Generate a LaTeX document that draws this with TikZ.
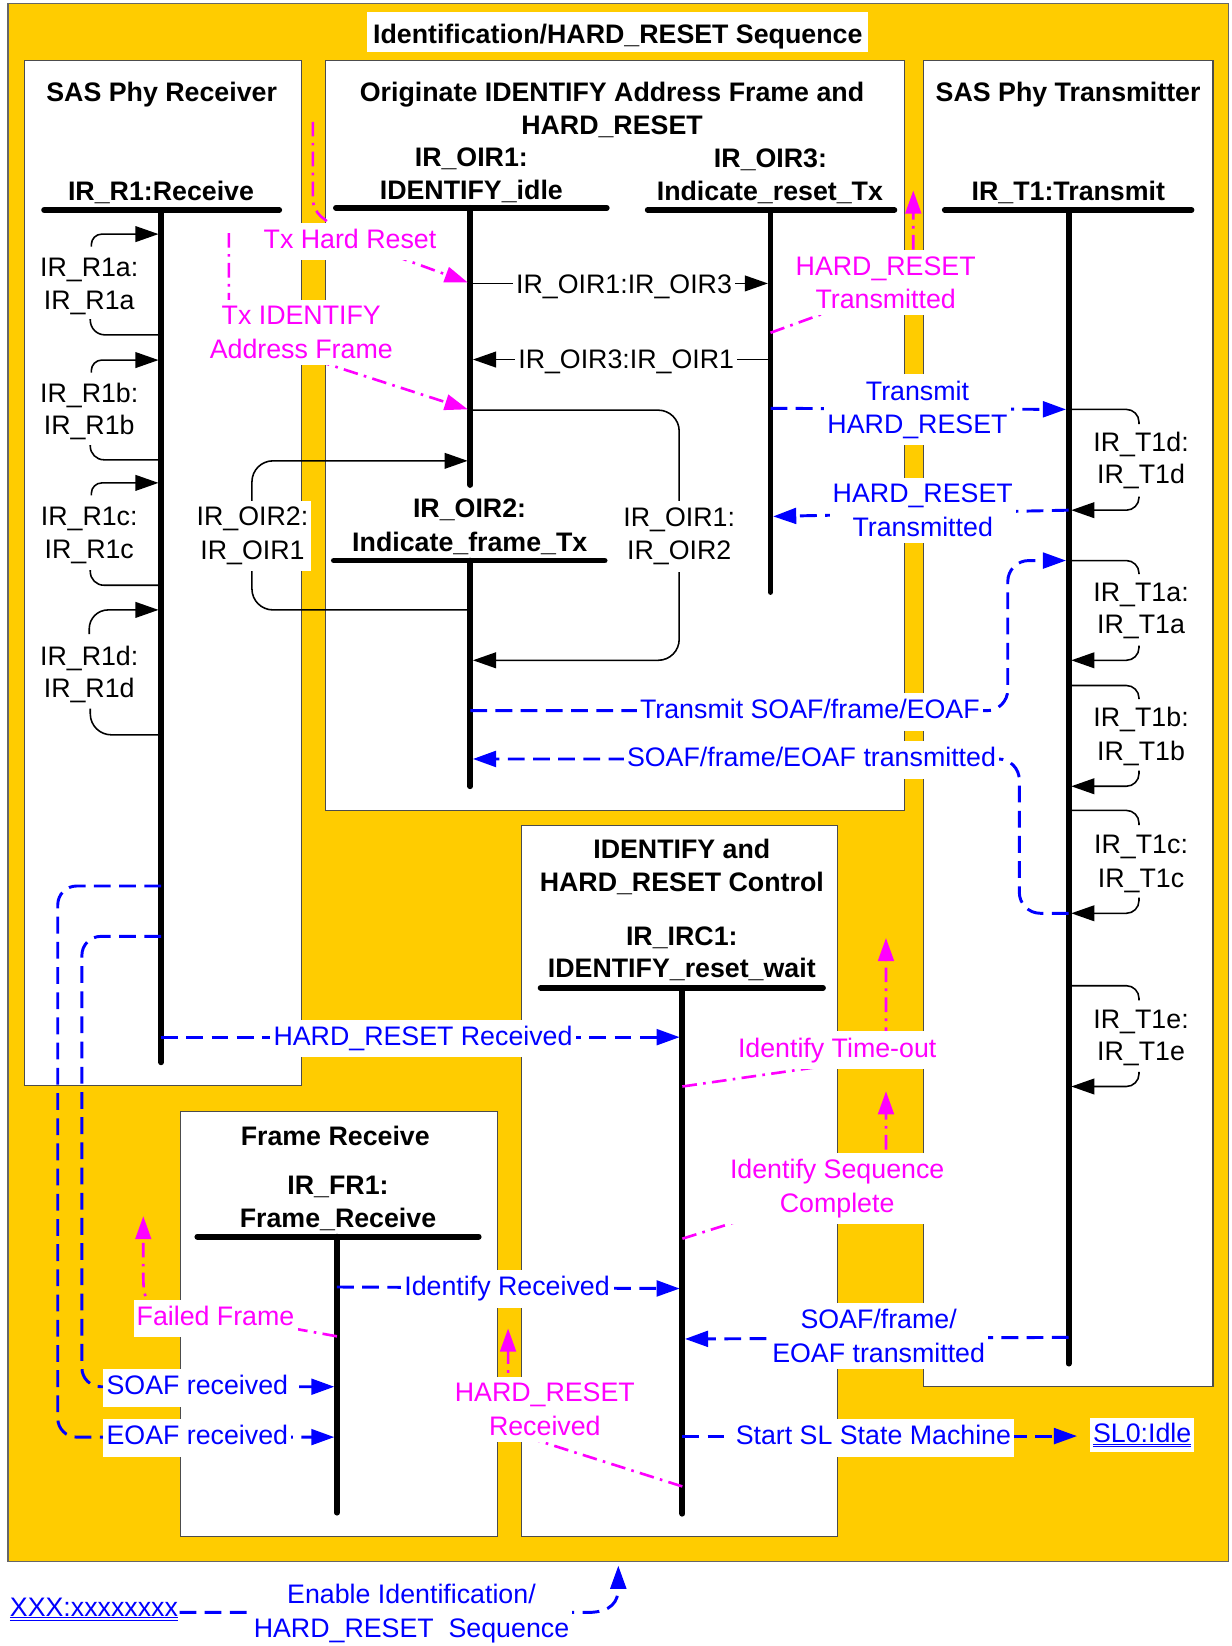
\documentclass[tikz,border=0pt]{standalone}
\usepackage{fontspec}
\setmainfont{Liberation Sans}
\usetikzlibrary{arrows.meta}
\definecolor{yel}{HTML}{FFCC00}
\definecolor{mag}{HTML}{FF00FF}
\definecolor{blu}{HTML}{0000FF}
\newcommand\myfs{\fontsize{25.5pt}{32pt}\selectfont}
\newcommand\dblul[1]{\underline{\underline{#1}}}
\begin{document}
\begin{tikzpicture}[x=1pt,y=-1pt,
  box/.style={draw=black!70, fill=white, line width=1pt, anchor=north west, inner sep=0pt},
  bar/.style={line width=5.5pt, line cap=round},
  arr/.style={-{Triangle[length=22pt,width=15pt]}, shorten >=2.5pt},
  tr/.style={draw=black, line width=1.5pt},
  sig/.style={draw=blu, line width=2.8pt, dash pattern=on 16pt off 8pt},
  evt/.style={draw=mag, line width=2.5pt, dash pattern=on 14pt off 6pt on 2.5pt off 6pt},
  txt/.style={font=\myfs, inner sep=0pt, anchor=base},
  btxt/.style={font=\myfs\bfseries, inner sep=0pt, anchor=base},
  lbl/.style={font=\myfs, fill=white, inner xsep=3pt, inner ysep=6pt, text height=18.5pt, text depth=5.5pt},
  lblm/.style={font=\myfs, fill=white, inner xsep=3pt, inner ysep=6pt, align=center},
]
\useasboundingbox (0,0) rectangle (1173,1568);
% background and panels
\node[draw=black!60, fill=yel, line width=1.2pt, anchor=north west, inner sep=0pt, minimum width=1163pt, minimum height=1484pt] (bg) at (7,3) {};
\node[box, minimum width=264pt, minimum height=977pt] (prx) at (23,57) {};
\node[box, minimum width=551pt, minimum height=715pt] (poir) at (310,57) {};
\node[box, minimum width=276pt, minimum height=1263pt] (ptx) at (879,57) {};
\node[box, minimum width=301pt, minimum height=677pt] (pirc) at (496,786) {};
\node[box, minimum width=302pt, minimum height=405pt] (pfr) at (171,1058) {};
\node[fill=white, inner sep=0pt, minimum width=477pt, minimum height=38pt] (titlebox) at (588.5,30.5) {};
\node[btxt] (title) at (588.5,41.3) {Identification/HARD\_RESET Sequence};

% panel titles
\node[btxt] (tprx) at (154,97) {SAS Phy Receiver};
\node[btxt] (tpo1) at (583,97) {Originate IDENTIFY Address Frame and};
\node[btxt] (tpo2) at (583,128.6) {HARD\_RESET};
\node[btxt] (tptx) at (1017.5,97) {SAS Phy Transmitter};
\node[btxt] (tpc1) at (649.5,818) {IDENTIFY and};
\node[btxt] (tpc2) at (649.5,849.7) {HARD\_RESET Control};
\node[btxt] (tpfr) at (319.4,1091) {Frame Receive};

% state names
\node[btxt] (sr1) at (153.4,190.6) {IR\_R1:Receive};
\node[btxt] (so1a) at (449,158.8) {IR\_OIR1:};
\node[btxt] (so1b) at (449,190) {IDENTIFY\_idle};
\node[btxt] (so3a) at (734,159.5) {IR\_OIR3:};
\node[btxt] (so3b) at (733.4,190.6) {Indicate\_reset\_Tx};
\node[btxt] (st1) at (1017.7,190.6) {IR\_T1:Transmit};
\node[btxt] (so2a) at (447.3,493) {IR\_OIR2:};
\node[btxt] (so2b) at (447.5,525.7) {Indicate\_frame\_Tx};
\node[btxt] (sica) at (649.5,900.5) {IR\_IRC1:};
\node[btxt] (sicb) at (649.5,931.3) {IDENTIFY\_reset\_wait};
\node[btxt] (sfra) at (322,1138) {IR\_FR1:};
\node[btxt] (sfrb) at (322,1169) {Frame\_Receive};

% state bars
\draw[bar] (42,200) -- (266,200);
\coordinate (r1t) at (153.5,200); \coordinate (r1e) at (153.5,1012);
\draw[bar] (r1t) -- (r1e);
\draw[bar] (320,198) -- (578,198);
\coordinate (o1t) at (448,198); \coordinate (o1e) at (448,462);
\draw[bar] (o1t) -- (o1e);
\draw[bar] (617,200) -- (852,200);
\coordinate (o3t) at (734,200); \coordinate (o3e) at (734,564);
\draw[bar] (o3t) -- (o3e);
\draw[bar] (900,200) -- (1135,200);
\coordinate (t1t) at (1018,200); \coordinate (t1e) at (1018,1299);
\draw[bar] (t1t) -- (t1e);
\draw[bar] (318,534) -- (576,534);
\coordinate (o2t) at (448,534); \coordinate (o2e) at (448,749);
\draw[bar] (o2t) -- (o2e);
\draw[bar] (515,941) -- (784,941);
\coordinate (ict) at (650,941); \coordinate (ice) at (650,1442);
\draw[bar] (ict) -- (ice);
\draw[bar] (188,1178) -- (456,1178);
\coordinate (frt) at (321,1178); \coordinate (fre) at (321,1441);
\draw[bar] (frt) -- (fre);

% R1 self loops
\foreach \n/\ya/\xs/\ys/\ra/\yb/\ye/\rb in {a/223/87/235/10/304/319/14, b/343/87/355/10/424/438/13, c/460/87/472/10/543/557.5/13, d/581/85/604/18/675/700/20} {
  \coordinate (r1\n i) at (153.5,\ya);
  \coordinate (r1\n o) at (153.5,\ye);
  \draw[tr,arr,rounded corners=\ra pt] (\xs,\ys) |- (r1\n i);
  \draw[tr,rounded corners=\rb pt] (86,\yb) |- (r1\n o);
}
\node[txt] (lr1a1) at (85,263) {IR\_R1a:};
\node[txt] (lr1a2) at (85,295) {IR\_R1a};
\node[txt] (lr1b1) at (85,383) {IR\_R1b:};
\node[txt] (lr1b2) at (85,413.5) {IR\_R1b};
\node[txt] (lr1c1) at (85,501) {IR\_R1c:};
\node[txt] (lr1c2) at (85,532) {IR\_R1c};
\node[txt] (lr1d1) at (85,634) {IR\_R1d:};
\node[txt] (lr1d2) at (85,664.5) {IR\_R1d};

% T1 self loops
\foreach \n/\yt/\yte/\ybs/\ya in {d/390/404/473/486, a/534/547/615/629, b/653/666/734/749, c/772/786/855/870, e/939/953/1021/1035} {
  \coordinate (t1\n o) at (1018,\yt);
  \coordinate (t1\n i) at (1018,\ya);
  \draw[tr,rounded corners=12pt] (t1\n o) -| (1085,\yte);
  \draw[tr,arr,rounded corners=12pt] (1085,\ybs) |- (t1\n i);
}
\node[txt] (lt1d1) at (1087,430.4) {IR\_T1d:};
\node[txt] (lt1d2) at (1087,460.6) {IR\_T1d};
\node[txt] (lt1a1) at (1087,573.3) {IR\_T1a:};
\node[txt] (lt1a2) at (1087,603.5) {IR\_T1a};
\node[txt] (lt1b1) at (1087,692.5) {IR\_T1b:};
\node[txt] (lt1b2) at (1087,724.2) {IR\_T1b};
\node[txt] (lt1c1) at (1087,813.2) {IR\_T1c:};
\node[txt] (lt1c2) at (1087,845) {IR\_T1c};
\node[txt] (lt1e1) at (1087,980) {IR\_T1e:};
\node[txt] (lt1e2) at (1087,1010.1) {IR\_T1e};

% OIR transitions
\coordinate (o1a) at (448,270); \coordinate (o3a) at (734,270);
\draw[tr,arr] (o1a) -- (o3a);
\coordinate (o3b) at (734,342.5); \coordinate (o1b) at (448,342.5);
\draw[tr,arr] (o3b) -- (o1b);
\coordinate (o1c) at (448,390.7); \coordinate (o2c) at (448,629);
\draw[tr,arr,rounded corners=20pt] (o1c) -- (647,390.7) -- (647,629) -- (o2c);
\coordinate (o2d) at (448,581); \coordinate (o1d) at (448,439);
\draw[tr,arr,rounded corners=20pt] (o2d) -- (240,581) -- (240,439) -- (o1d);

% signals (blue)
\coordinate (o3s) at (734,389); \coordinate (t1s) at (1018,390);
\draw[sig,arr] (o3s) -- (t1s);
\coordinate (t1h) at (1018,486); \coordinate (o3h) at (734,492);
\draw[sig,arr] (t1h) -- (o3h);
\coordinate (o2s) at (448,677); \coordinate (t1x) at (1018,534);
\draw[sig,arr,rounded corners=20pt] (o2s) -- (960,677) -- (960,534) -- (t1x);
\coordinate (t1u) at (1018,870); \coordinate (o2u) at (448,723);
\draw[sig,arr,rounded corners=20pt] (t1u) -- (971,870) -- (971,723) -- (o2u);
\coordinate (r1h) at (153.5,988); \coordinate (ich) at (650,988);
\draw[sig,arr] (r1h) -- (ich);
\coordinate (r1eo) at (153.5,844); \coordinate (freo) at (321,1369);
\draw[sig,arr,rounded corners=18pt] (r1eo) -- (55,844) -- (55,1369) -- (freo);
\coordinate (r1so) at (153.5,892); \coordinate (frso) at (321,1321);
\draw[sig,arr,rounded corners=18pt] (r1so) -- (78,892) -- (78,1321) -- (frso);
\coordinate (fri) at (321,1226); \coordinate (ici) at (650,1227.5);
\draw[sig,arr] (fri) -- (ici);
\coordinate (t1v) at (1018,1274); \coordinate (icv) at (650,1275.5);
\draw[sig,arr] (t1v) -- (icv);
\node[txt, text=blu, fill=white, inner xsep=3pt, inner ysep=5pt] (sl0) at (1088,1374) {\dblul{SL0:Idle}};
\coordinate (ics) at (650,1368);
\draw[sig,arr,shorten >=12pt] (ics) -- (ics -| sl0.west);
\node[txt, text=blu] (xxx) at (89.5,1539.6) {\dblul{XXX:xxxxxxxx}};
\coordinate (xr) at (171,1536); \coordinate (ent) at (589,1489);
\draw[sig,arr] (xr) -- (560,1536) .. controls (583,1536) and (589,1525) .. (ent);

% events (magenta)
\coordinate (e1s) at (298,116);
\draw[evt,arr,rounded corners=10pt] (e1s) -- (298,200) -- (333,228) -- (o1a);
\coordinate (e2s) at (218,222);
\draw[evt,arr] (e2s) -- (218,300) -- (300,343) -- (o1c);
\coordinate (o3m) at (734,317); \coordinate (e3t) at (870,179);
\draw[evt,arr] (o3m) -- (800,293) -- (870,262) -- (e3t);
\coordinate (ic1) at (650,1035); \coordinate (e4t) at (844,891);
\draw[evt,arr] (ic1) -- (810,1012) -- (844,990) -- (e4t);
\coordinate (ic2) at (650,1180); \coordinate (e5t) at (844,1037);
\draw[evt,arr] (ic2) -- (720,1158) -- (844,1120) -- (e5t);
\coordinate (ic3) at (650,1416); \coordinate (e6t) at (484,1263);
\draw[evt,arr] (ic3) -- (505,1370) -- (484,1330) -- (e6t);
\coordinate (fr3) at (321,1273); \coordinate (e7t) at (136.5,1156);
\draw[evt,arr] (fr3) -- (260,1262) -- (150,1248) .. controls (138,1242) and (136.5,1232) .. (136.5,1215) -- (e7t);

% labels on connectors
\node[lbl] (lo1o3) at (594.5,273) {IR\_OIR1:IR\_OIR3};
\node[lbl] (lo3o1) at (596.5,345) {IR\_OIR3:IR\_OIR1};
\node[lblm] (lo1o2) at (647,511) {IR\_OIR1:\\IR\_OIR2};
\node[lblm] (lo2o1) at (240.5,510.5) {IR\_OIR2:\\IR\_OIR1};
\node[lblm, text=blu] (lthr) at (874,390.5) {Transmit\\HARD\_RESET};
\node[lblm, text=blu] (lhrt) at (879,486.2) {HARD\_RESET\\Transmitted};
\node[lbl, text=blu] (ltsf) at (771.5,678) {Transmit SOAF/frame/EOAF};
\node[lbl, text=blu] (lsft) at (773,724) {SOAF/frame/EOAF transmitted};
\node[lbl, text=blu] (lhrr) at (403,989.3) {HARD\_RESET Received};
\node[lbl, text=blu] (lsoafr) at (188,1322) {SOAF received};
\node[lbl, text=blu] (leoafr) at (188,1369.5) {EOAF received};
\node[lbl, text=blu] (lidr) at (483,1227.6) {Identify Received};
\node[lblm, text=blu] (lsft2) at (837,1272.5) {SOAF/frame/\\EOAF transmitted};
\node[lbl, text=blu] (lssm) at (832,1369.8) {Start SL State Machine};
\node[lblm, text=blu] (lenable) at (392,1537) {Enable Identification/\\HARD\_RESET\ \ Sequence};
\node[lbl, text=mag] (ltxhr) at (333.4,230) {Tx Hard Reset};
\node[lblm, text=mag] (ltxid) at (287,316.5) {Tx IDENTIFY\\Address Frame};
\node[lblm, text=mag] (lhrtm) at (843.7,269.5) {HARD\_RESET\\Transmitted};
\node[lbl, text=mag] (lito) at (797.5,1000.4) {Identify Time-out};
\node[lblm, text=mag] (lisc) at (797.5,1132) {Identify Sequence\\Complete};
\node[lblm, text=mag] (lhrrm) at (519,1342.5) {HARD\_RESET\\Received};
\node[lbl, text=mag] (lff) at (205.3,1256) {Failed Frame};
\end{tikzpicture}
\end{document}
